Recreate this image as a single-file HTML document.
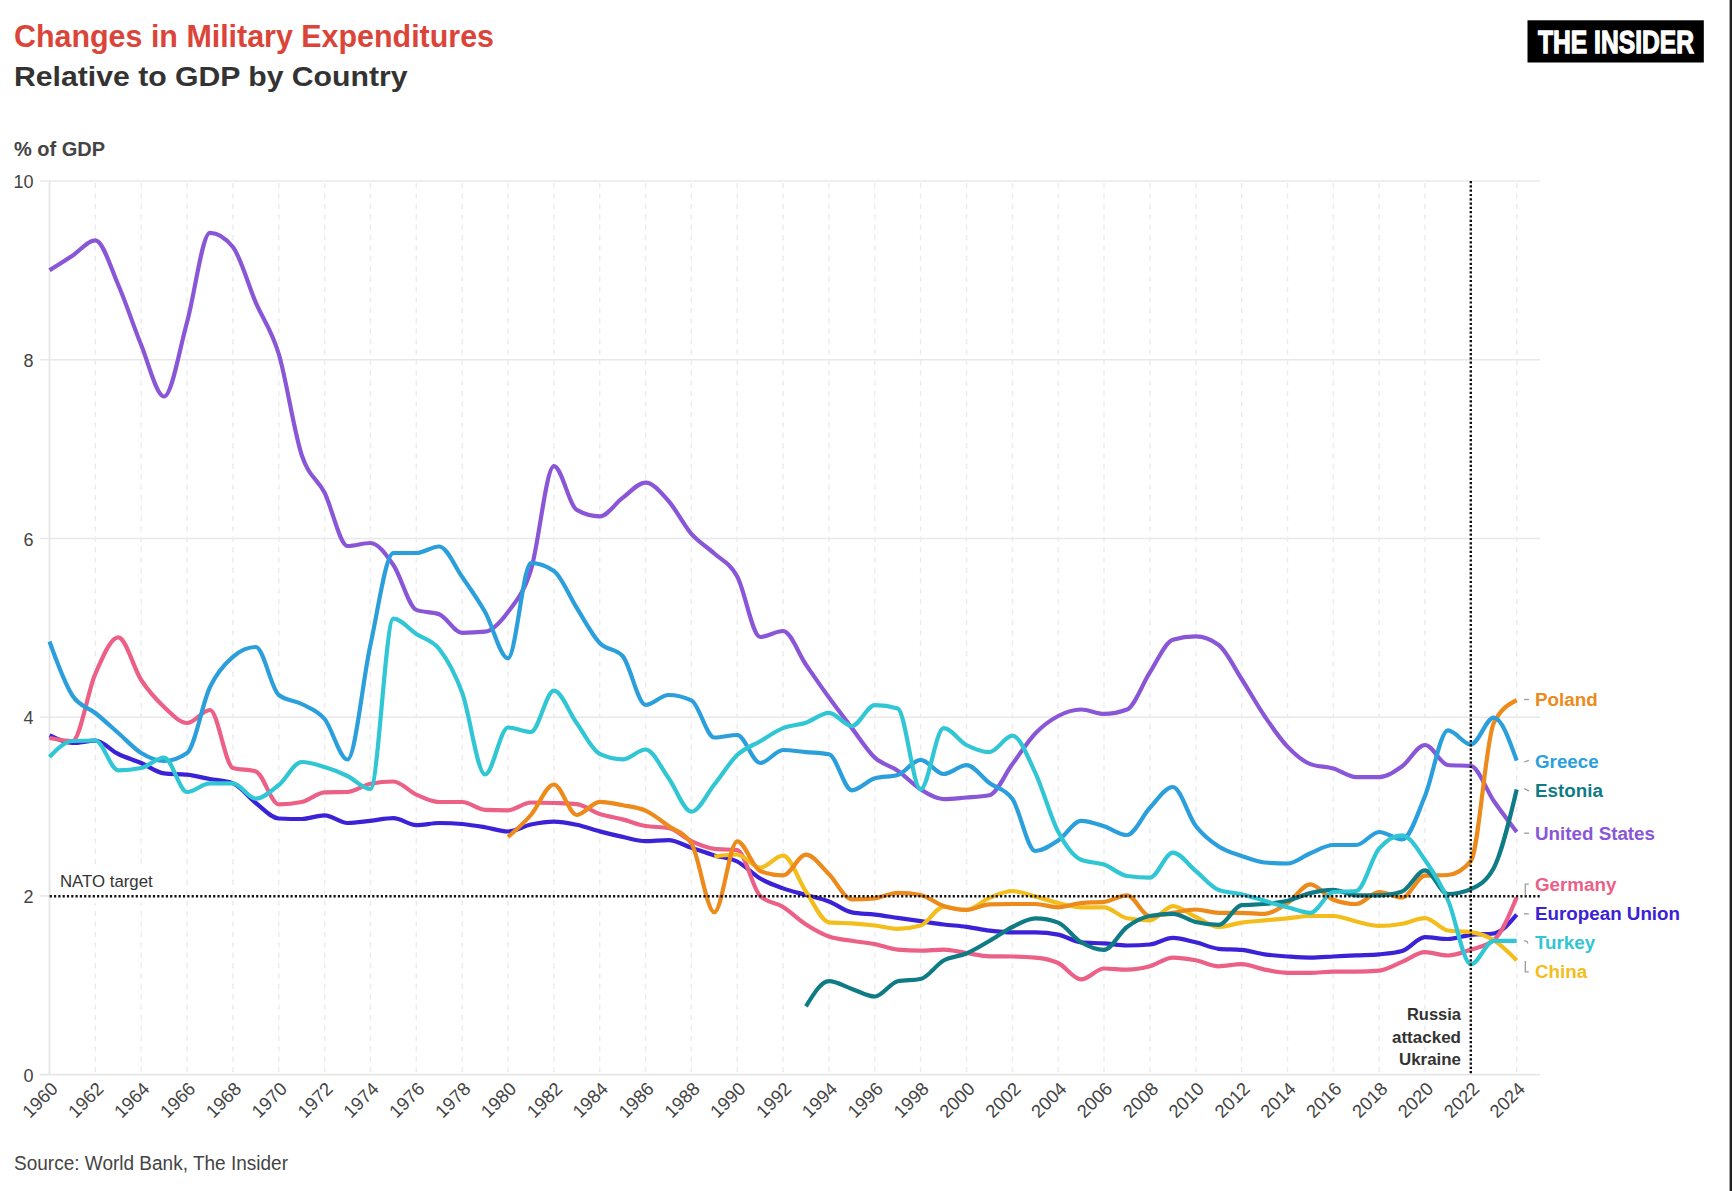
<!DOCTYPE html>
<html><head><meta charset="utf-8">
<style>
html,body{margin:0;padding:0;background:#fff;}
body{width:1732px;height:1191px;position:relative;overflow:hidden;font-family:"Liberation Sans",sans-serif;}
svg{position:absolute;left:0;top:0;}
.t1{font-weight:bold;font-size:31.5px;fill:#db4539;}
.t2{font-weight:bold;font-size:28px;fill:#333333;}
.gdp{font-weight:bold;font-size:20px;fill:#444;}
.yl{font-size:18px;fill:#444;}
.xl{font-size:18.4px;fill:#444;}
.nato{font-size:16.8px;fill:#333;stroke:#fff;stroke-width:4px;paint-order:stroke;}
.ann{font-size:16.5px;font-weight:bold;fill:#333;}
.lab{font-size:18.8px;font-weight:bold;}
.src{font-size:20px;fill:#444;}
.logo{font-weight:bold;font-size:32px;fill:#fff;stroke:#fff;stroke-width:1.3px;}
</style></head><body>
<svg width="1732" height="1191" viewBox="0 0 1732 1191">
<text x="14" y="46.8" class="t1" textLength="480" lengthAdjust="spacingAndGlyphs">Changes in Military Expenditures</text>
<text x="14" y="85.9" class="t2" textLength="393.5" lengthAdjust="spacingAndGlyphs">Relative to GDP by Country</text>
<text x="14" y="155.9" class="gdp">% of GDP</text>
<rect x="1527.5" y="20.3" width="176.3" height="42.2" fill="#000"/>
<text x="1538" y="52.7" class="logo" transform="translate(1538,0) scale(0.77,1) translate(-1538,0)">THE INSIDER</text>
<line x1="40" y1="895.9" x2="49.5" y2="895.9" stroke="#e6e6e6" stroke-width="1.5"/>
<line x1="40" y1="717.2" x2="1540" y2="717.2" stroke="#e8e8e8" stroke-width="1.5"/>
<line x1="40" y1="538.5" x2="1540" y2="538.5" stroke="#e8e8e8" stroke-width="1.5"/>
<line x1="40" y1="359.8" x2="1540" y2="359.8" stroke="#e8e8e8" stroke-width="1.5"/>
<line x1="40" y1="181.1" x2="1540" y2="181.1" stroke="#e8e8e8" stroke-width="1.5"/>
<line x1="95.3" y1="183" x2="95.3" y2="1074" stroke="#ececec" stroke-width="1.4" stroke-dasharray="5.2 5.2"/>
<line x1="141.2" y1="183" x2="141.2" y2="1074" stroke="#ececec" stroke-width="1.4" stroke-dasharray="5.2 5.2"/>
<line x1="187.1" y1="183" x2="187.1" y2="1074" stroke="#ececec" stroke-width="1.4" stroke-dasharray="5.2 5.2"/>
<line x1="232.9" y1="183" x2="232.9" y2="1074" stroke="#ececec" stroke-width="1.4" stroke-dasharray="5.2 5.2"/>
<line x1="278.8" y1="183" x2="278.8" y2="1074" stroke="#ececec" stroke-width="1.4" stroke-dasharray="5.2 5.2"/>
<line x1="324.6" y1="183" x2="324.6" y2="1074" stroke="#ececec" stroke-width="1.4" stroke-dasharray="5.2 5.2"/>
<line x1="370.4" y1="183" x2="370.4" y2="1074" stroke="#ececec" stroke-width="1.4" stroke-dasharray="5.2 5.2"/>
<line x1="416.3" y1="183" x2="416.3" y2="1074" stroke="#ececec" stroke-width="1.4" stroke-dasharray="5.2 5.2"/>
<line x1="462.2" y1="183" x2="462.2" y2="1074" stroke="#ececec" stroke-width="1.4" stroke-dasharray="5.2 5.2"/>
<line x1="508.0" y1="183" x2="508.0" y2="1074" stroke="#ececec" stroke-width="1.4" stroke-dasharray="5.2 5.2"/>
<line x1="553.9" y1="183" x2="553.9" y2="1074" stroke="#ececec" stroke-width="1.4" stroke-dasharray="5.2 5.2"/>
<line x1="599.7" y1="183" x2="599.7" y2="1074" stroke="#ececec" stroke-width="1.4" stroke-dasharray="5.2 5.2"/>
<line x1="645.6" y1="183" x2="645.6" y2="1074" stroke="#ececec" stroke-width="1.4" stroke-dasharray="5.2 5.2"/>
<line x1="691.4" y1="183" x2="691.4" y2="1074" stroke="#ececec" stroke-width="1.4" stroke-dasharray="5.2 5.2"/>
<line x1="737.2" y1="183" x2="737.2" y2="1074" stroke="#ececec" stroke-width="1.4" stroke-dasharray="5.2 5.2"/>
<line x1="783.1" y1="183" x2="783.1" y2="1074" stroke="#ececec" stroke-width="1.4" stroke-dasharray="5.2 5.2"/>
<line x1="829.0" y1="183" x2="829.0" y2="1074" stroke="#ececec" stroke-width="1.4" stroke-dasharray="5.2 5.2"/>
<line x1="874.8" y1="183" x2="874.8" y2="1074" stroke="#ececec" stroke-width="1.4" stroke-dasharray="5.2 5.2"/>
<line x1="920.6" y1="183" x2="920.6" y2="1074" stroke="#ececec" stroke-width="1.4" stroke-dasharray="5.2 5.2"/>
<line x1="966.5" y1="183" x2="966.5" y2="1074" stroke="#ececec" stroke-width="1.4" stroke-dasharray="5.2 5.2"/>
<line x1="1012.4" y1="183" x2="1012.4" y2="1074" stroke="#ececec" stroke-width="1.4" stroke-dasharray="5.2 5.2"/>
<line x1="1058.2" y1="183" x2="1058.2" y2="1074" stroke="#ececec" stroke-width="1.4" stroke-dasharray="5.2 5.2"/>
<line x1="1104.0" y1="183" x2="1104.0" y2="1074" stroke="#ececec" stroke-width="1.4" stroke-dasharray="5.2 5.2"/>
<line x1="1149.9" y1="183" x2="1149.9" y2="1074" stroke="#ececec" stroke-width="1.4" stroke-dasharray="5.2 5.2"/>
<line x1="1195.8" y1="183" x2="1195.8" y2="1074" stroke="#ececec" stroke-width="1.4" stroke-dasharray="5.2 5.2"/>
<line x1="1241.6" y1="183" x2="1241.6" y2="1074" stroke="#ececec" stroke-width="1.4" stroke-dasharray="5.2 5.2"/>
<line x1="1287.5" y1="183" x2="1287.5" y2="1074" stroke="#ececec" stroke-width="1.4" stroke-dasharray="5.2 5.2"/>
<line x1="1333.3" y1="183" x2="1333.3" y2="1074" stroke="#ececec" stroke-width="1.4" stroke-dasharray="5.2 5.2"/>
<line x1="1379.2" y1="183" x2="1379.2" y2="1074" stroke="#ececec" stroke-width="1.4" stroke-dasharray="5.2 5.2"/>
<line x1="1425.0" y1="183" x2="1425.0" y2="1074" stroke="#ececec" stroke-width="1.4" stroke-dasharray="5.2 5.2"/>
<line x1="1470.9" y1="183" x2="1470.9" y2="1074" stroke="#ececec" stroke-width="1.4" stroke-dasharray="5.2 5.2"/>
<line x1="1516.7" y1="183" x2="1516.7" y2="1074" stroke="#ececec" stroke-width="1.4" stroke-dasharray="5.2 5.2"/>
<line x1="49.5" y1="181" x2="49.5" y2="1075" stroke="#e6e6e6" stroke-width="1.8"/>
<line x1="40" y1="1074.6" x2="1540" y2="1074.6" stroke="#e6e6e6" stroke-width="1.8"/>
<text x="33.5" y="1081.8" text-anchor="end" class="yl">0</text>
<text x="33.5" y="903.1" text-anchor="end" class="yl">2</text>
<text x="33.5" y="724.4" text-anchor="end" class="yl">4</text>
<text x="33.5" y="545.7" text-anchor="end" class="yl">6</text>
<text x="33.5" y="367.0" text-anchor="end" class="yl">8</text>
<text x="33.5" y="188.3" text-anchor="end" class="yl">10</text>
<text transform="translate(59.0,1090) rotate(-45)" text-anchor="end" class="xl">1960</text>
<text transform="translate(104.8,1090) rotate(-45)" text-anchor="end" class="xl">1962</text>
<text transform="translate(150.7,1090) rotate(-45)" text-anchor="end" class="xl">1964</text>
<text transform="translate(196.6,1090) rotate(-45)" text-anchor="end" class="xl">1966</text>
<text transform="translate(242.4,1090) rotate(-45)" text-anchor="end" class="xl">1968</text>
<text transform="translate(288.2,1090) rotate(-45)" text-anchor="end" class="xl">1970</text>
<text transform="translate(334.1,1090) rotate(-45)" text-anchor="end" class="xl">1972</text>
<text transform="translate(379.9,1090) rotate(-45)" text-anchor="end" class="xl">1974</text>
<text transform="translate(425.8,1090) rotate(-45)" text-anchor="end" class="xl">1976</text>
<text transform="translate(471.7,1090) rotate(-45)" text-anchor="end" class="xl">1978</text>
<text transform="translate(517.5,1090) rotate(-45)" text-anchor="end" class="xl">1980</text>
<text transform="translate(563.4,1090) rotate(-45)" text-anchor="end" class="xl">1982</text>
<text transform="translate(609.2,1090) rotate(-45)" text-anchor="end" class="xl">1984</text>
<text transform="translate(655.1,1090) rotate(-45)" text-anchor="end" class="xl">1986</text>
<text transform="translate(700.9,1090) rotate(-45)" text-anchor="end" class="xl">1988</text>
<text transform="translate(746.8,1090) rotate(-45)" text-anchor="end" class="xl">1990</text>
<text transform="translate(792.6,1090) rotate(-45)" text-anchor="end" class="xl">1992</text>
<text transform="translate(838.5,1090) rotate(-45)" text-anchor="end" class="xl">1994</text>
<text transform="translate(884.3,1090) rotate(-45)" text-anchor="end" class="xl">1996</text>
<text transform="translate(930.1,1090) rotate(-45)" text-anchor="end" class="xl">1998</text>
<text transform="translate(976.0,1090) rotate(-45)" text-anchor="end" class="xl">2000</text>
<text transform="translate(1021.9,1090) rotate(-45)" text-anchor="end" class="xl">2002</text>
<text transform="translate(1067.7,1090) rotate(-45)" text-anchor="end" class="xl">2004</text>
<text transform="translate(1113.5,1090) rotate(-45)" text-anchor="end" class="xl">2006</text>
<text transform="translate(1159.4,1090) rotate(-45)" text-anchor="end" class="xl">2008</text>
<text transform="translate(1205.2,1090) rotate(-45)" text-anchor="end" class="xl">2010</text>
<text transform="translate(1251.1,1090) rotate(-45)" text-anchor="end" class="xl">2012</text>
<text transform="translate(1297.0,1090) rotate(-45)" text-anchor="end" class="xl">2014</text>
<text transform="translate(1342.8,1090) rotate(-45)" text-anchor="end" class="xl">2016</text>
<text transform="translate(1388.7,1090) rotate(-45)" text-anchor="end" class="xl">2018</text>
<text transform="translate(1434.5,1090) rotate(-45)" text-anchor="end" class="xl">2020</text>
<text transform="translate(1480.4,1090) rotate(-45)" text-anchor="end" class="xl">2022</text>
<text transform="translate(1526.2,1090) rotate(-45)" text-anchor="end" class="xl">2024</text>
<rect x="56" y="866" width="100" height="37" fill="#fff"/>
<text x="60" y="886.7" class="nato">NATO target</text>
<text x="1461" y="1020.4" text-anchor="end" class="ann">Russia</text>
<text x="1461" y="1042.8" text-anchor="end" class="ann" textLength="69" lengthAdjust="spacingAndGlyphs">attacked</text>
<text x="1461" y="1065.3" text-anchor="end" class="ann" textLength="62" lengthAdjust="spacingAndGlyphs">Ukraine</text>
<path d="M49.5,270.3C57.1,265.5 64.8,260.7 72.4,255.7C80.1,250.7 87.7,240.4 95.3,240.4C103.0,240.4 110.6,267.6 118.3,285.0C125.9,302.4 133.6,326.4 141.2,345.0C148.8,363.6 156.5,396.5 164.1,396.5C171.8,396.5 179.4,349.3 187.1,322.0C194.7,294.7 202.3,232.8 210.0,232.8C217.6,232.8 225.3,237.5 232.9,247.0C240.5,256.5 248.2,284.8 255.8,302.6C263.5,320.4 271.1,328.6 278.8,354.0C286.4,379.4 294.0,431.9 301.7,455.0C309.3,478.1 317.0,477.6 324.6,492.8C332.2,508.0 339.9,546.0 347.5,546.0C355.2,546.0 362.8,543.0 370.4,543.0C378.1,543.0 385.7,553.9 393.4,565.0C401.0,576.1 408.7,607.0 416.3,609.9C423.9,612.8 431.6,611.3 439.2,614.2C446.9,617.1 454.5,632.8 462.2,632.8C469.8,632.8 477.4,632.4 485.1,631.7C492.7,631.0 500.4,622.3 508.0,612.0C515.6,601.7 523.3,594.3 530.9,570.0C538.6,545.7 546.2,466.2 553.9,466.2C561.5,466.2 569.1,505.6 576.8,509.9C584.4,514.2 592.1,516.4 599.7,516.4C607.3,516.4 615.0,503.5 622.6,497.9C630.3,492.3 637.9,482.6 645.6,482.6C653.2,482.6 660.8,492.4 668.5,501.0C676.1,509.6 683.8,525.1 691.4,533.9C699.0,542.6 706.7,546.4 714.3,553.5C722.0,560.6 729.6,562.6 737.2,576.5C744.9,590.4 752.5,637.0 760.2,637.0C767.8,637.0 775.5,631.0 783.1,631.0C790.7,631.0 798.4,653.7 806.0,664.8C813.7,675.9 821.3,687.0 829.0,697.6C836.6,708.1 844.2,718.1 851.9,728.1C859.5,738.1 867.2,750.5 874.8,757.6C882.4,764.7 890.1,765.4 897.7,770.7C905.4,776.0 913.0,784.6 920.6,789.3C928.3,794.0 935.9,799.1 943.6,799.1C951.2,799.1 958.9,798.1 966.5,797.5C974.1,796.9 981.8,796.7 989.4,795.2C997.1,793.7 1004.7,774.4 1012.4,764.1C1020.0,753.8 1027.6,741.5 1035.3,733.5C1042.9,725.5 1050.6,720.0 1058.2,716.0C1065.8,712.0 1073.5,709.5 1081.1,709.5C1088.8,709.5 1096.4,713.9 1104.0,713.9C1111.7,713.9 1119.3,712.4 1127.0,709.5C1134.6,706.6 1142.3,684.0 1149.9,672.4C1157.5,660.8 1165.2,641.9 1172.8,639.7C1180.5,637.5 1188.1,636.4 1195.8,636.4C1203.4,636.4 1211.0,639.3 1218.7,645.0C1226.3,650.7 1234.0,667.2 1241.6,679.0C1249.2,690.8 1256.9,704.7 1264.5,716.0C1272.2,727.3 1279.8,738.6 1287.5,746.6C1295.1,754.6 1302.7,761.2 1310.4,764.1C1318.0,767.0 1325.7,766.3 1333.3,768.5C1340.9,770.7 1348.6,777.2 1356.2,777.2C1363.9,777.2 1371.5,777.2 1379.2,777.2C1386.8,777.2 1394.4,771.7 1402.1,766.3C1409.7,760.9 1417.4,745.0 1425.0,745.0C1432.6,745.0 1440.3,764.3 1447.9,765.0C1455.6,765.7 1463.2,765.3 1470.9,766.0C1478.5,766.7 1486.1,790.0 1493.8,801.0C1501.4,812.0 1509.1,821.9 1516.7,831.9" fill="none" stroke="#8a56d8" stroke-width="4.2" stroke-linejoin="round" stroke-linecap="butt"/>
<path d="M49.5,735.3C57.1,739.1 64.8,743.0 72.4,743.0C80.1,743.0 87.7,740.7 95.3,740.7C103.0,740.7 110.6,750.3 118.3,754.0C125.9,757.7 133.6,759.8 141.2,763.0C148.8,766.2 156.5,772.5 164.1,773.4C171.8,774.3 179.4,773.8 187.1,774.7C194.7,775.6 202.3,777.6 210.0,779.0C217.6,780.5 225.3,780.5 232.9,783.4C240.5,786.3 248.2,797.1 255.8,803.0C263.5,808.9 271.1,818.2 278.8,818.5C286.4,818.8 294.0,819.0 301.7,819.0C309.3,819.0 317.0,815.3 324.6,815.3C332.2,815.3 339.9,823.0 347.5,823.0C355.2,823.0 362.8,821.6 370.4,820.8C378.1,820.0 385.7,818.2 393.4,818.2C401.0,818.2 408.7,825.2 416.3,825.2C423.9,825.2 431.6,823.0 439.2,823.0C446.9,823.0 454.5,823.3 462.2,824.0C469.8,824.7 477.4,826.0 485.1,827.3C492.7,828.5 500.4,831.5 508.0,831.5C515.6,831.5 523.3,826.1 530.9,824.5C538.6,822.9 546.2,821.6 553.9,821.6C561.5,821.6 569.1,823.2 576.8,824.8C584.4,826.4 592.1,829.4 599.7,831.4C607.3,833.4 615.0,835.3 622.6,836.9C630.3,838.5 637.9,841.2 645.6,841.2C653.2,841.2 660.8,840.1 668.5,840.1C676.1,840.1 683.8,845.2 691.4,847.8C699.0,850.3 706.7,853.1 714.3,855.4C722.0,857.7 729.6,857.6 737.2,861.5C744.9,865.4 752.5,874.0 760.2,878.5C767.8,883.0 775.5,885.6 783.1,888.4C790.7,891.1 798.4,892.8 806.0,895.0C813.7,897.2 821.3,898.6 829.0,901.5C836.6,904.4 844.2,910.9 851.9,912.4C859.5,913.9 867.2,913.7 874.8,914.6C882.4,915.5 890.1,916.8 897.7,917.9C905.4,919.0 913.0,920.1 920.6,921.2C928.3,922.3 935.9,923.6 943.6,924.5C951.2,925.4 958.9,925.8 966.5,926.8C974.1,927.8 981.8,929.7 989.4,930.6C997.1,931.5 1004.7,932.4 1012.4,932.4C1020.0,932.4 1027.6,932.4 1035.3,932.4C1042.9,932.4 1050.6,933.1 1058.2,934.6C1065.8,936.1 1073.5,941.6 1081.1,942.3C1088.8,943.0 1096.4,942.9 1104.0,943.4C1111.7,943.9 1119.3,945.5 1127.0,945.5C1134.6,945.5 1142.3,945.2 1149.9,944.5C1157.5,943.8 1165.2,937.9 1172.8,937.9C1180.5,937.9 1188.1,940.5 1195.8,942.3C1203.4,944.1 1211.0,948.1 1218.7,948.8C1226.3,949.5 1234.0,949.2 1241.6,949.9C1249.2,950.6 1256.9,953.2 1264.5,954.3C1272.2,955.4 1279.8,956.0 1287.5,956.5C1295.1,957.0 1302.7,957.6 1310.4,957.6C1318.0,957.6 1325.7,956.9 1333.3,956.5C1340.9,956.1 1348.6,955.8 1356.2,955.4C1363.9,955.0 1371.5,955.0 1379.2,954.3C1386.8,953.6 1394.4,953.2 1402.1,951.0C1409.7,948.8 1417.4,937.2 1425.0,937.2C1432.6,937.2 1440.3,939.0 1447.9,939.0C1455.6,939.0 1463.2,935.7 1470.9,934.8C1478.5,933.9 1486.1,934.4 1493.8,933.5C1501.4,932.6 1509.1,923.7 1516.7,914.7" fill="none" stroke="#3b22d6" stroke-width="4.2" stroke-linejoin="round" stroke-linecap="butt"/>
<path d="M49.5,738.0C57.1,739.5 64.8,741.0 72.4,741.0C80.1,741.0 87.7,691.1 95.3,673.8C103.0,656.5 110.6,637.3 118.3,637.3C125.9,637.3 133.6,668.4 141.2,680.0C148.8,691.6 156.5,699.8 164.1,707.0C171.8,714.2 179.4,723.0 187.1,723.0C194.7,723.0 202.3,710.0 210.0,710.0C217.6,710.0 225.3,765.7 232.9,768.0C240.5,770.3 248.2,769.1 255.8,771.4C263.5,773.7 271.1,804.4 278.8,804.4C286.4,804.4 294.0,803.6 301.7,802.0C309.3,800.4 317.0,792.7 324.6,792.4C332.2,792.1 339.9,792.3 347.5,792.0C355.2,791.7 362.8,785.2 370.4,783.7C378.1,782.2 385.7,781.5 393.4,781.5C401.0,781.5 408.7,791.2 416.3,794.6C423.9,798.0 431.6,802.0 439.2,802.0C446.9,802.0 454.5,802.0 462.2,802.0C469.8,802.0 477.4,809.6 485.1,809.9C492.7,810.2 500.4,810.3 508.0,810.3C515.6,810.3 523.3,802.5 530.9,802.5C538.6,802.5 546.2,802.7 553.9,803.0C561.5,803.3 569.1,803.4 576.8,804.1C584.4,804.8 592.1,811.5 599.7,814.0C607.3,816.5 615.0,817.4 622.6,819.4C630.3,821.4 637.9,824.7 645.6,826.0C653.2,827.3 660.8,826.7 668.5,828.0C676.1,829.3 683.8,837.7 691.4,841.2C699.0,844.7 706.7,848.1 714.3,848.9C722.0,849.7 729.6,849.3 737.2,850.1C744.9,850.9 752.5,888.7 760.2,896.0C767.8,903.3 775.5,902.2 783.1,907.0C790.7,911.8 798.4,919.6 806.0,924.5C813.7,929.4 821.3,933.8 829.0,936.5C836.6,939.2 844.2,939.5 851.9,940.8C859.5,942.1 867.2,942.6 874.8,944.1C882.4,945.6 890.1,948.9 897.7,949.6C905.4,950.3 913.0,950.7 920.6,950.7C928.3,950.7 935.9,949.6 943.6,949.6C951.2,949.6 958.9,951.9 966.5,953.0C974.1,954.1 981.8,956.2 989.4,956.3C997.1,956.4 1004.7,956.4 1012.4,956.5C1020.0,956.6 1027.6,956.9 1035.3,957.6C1042.9,958.3 1050.6,959.4 1058.2,963.0C1065.8,966.6 1073.5,979.4 1081.1,979.4C1088.8,979.4 1096.4,968.5 1104.0,968.5C1111.7,968.5 1119.3,969.6 1127.0,969.6C1134.6,969.6 1142.3,968.3 1149.9,966.3C1157.5,964.3 1165.2,957.6 1172.8,957.6C1180.5,957.6 1188.1,958.8 1195.8,960.2C1203.4,961.7 1211.0,966.3 1218.7,966.3C1226.3,966.3 1234.0,964.1 1241.6,964.1C1249.2,964.1 1256.9,968.2 1264.5,969.6C1272.2,971.0 1279.8,972.8 1287.5,972.8C1295.1,972.8 1302.7,972.8 1310.4,972.8C1318.0,972.8 1325.7,971.7 1333.3,971.7C1340.9,971.7 1348.6,971.7 1356.2,971.7C1363.9,971.7 1371.5,971.4 1379.2,970.7C1386.8,970.0 1394.4,965.0 1402.1,961.9C1409.7,958.8 1417.4,952.2 1425.0,952.2C1432.6,952.2 1440.3,955.5 1447.9,955.5C1455.6,955.5 1463.2,952.1 1470.9,949.6C1478.5,947.1 1486.1,946.5 1493.8,940.2C1501.4,933.9 1509.1,915.6 1516.7,897.2" fill="none" stroke="#ec6088" stroke-width="4.2" stroke-linejoin="round" stroke-linecap="butt"/>
<path d="M714.3,856.5C722.0,855.5 729.6,854.5 737.2,854.5C744.9,854.5 752.5,867.5 760.2,867.5C767.8,867.5 775.5,855.7 783.1,855.7C790.7,855.7 798.4,880.6 806.0,891.7C813.7,902.8 821.3,921.6 829.0,922.3C836.6,923.0 844.2,922.9 851.9,923.4C859.5,923.9 867.2,924.6 874.8,925.5C882.4,926.4 890.1,928.8 897.7,928.8C905.4,928.8 913.0,927.7 920.6,925.5C928.3,923.3 935.9,907.0 943.6,907.0C951.2,907.0 958.9,909.9 966.5,909.9C974.1,909.9 981.8,901.0 989.4,897.9C997.1,894.8 1004.7,891.0 1012.4,891.0C1020.0,891.0 1027.6,894.4 1035.3,896.4C1042.9,898.4 1050.6,901.2 1058.2,903.0C1065.8,904.8 1073.5,907.3 1081.1,907.3C1088.8,907.3 1096.4,907.3 1104.0,907.3C1111.7,907.3 1119.3,916.9 1127.0,918.3C1134.6,919.7 1142.3,920.4 1149.9,920.4C1157.5,920.4 1165.2,906.2 1172.8,906.2C1180.5,906.2 1188.1,913.5 1195.8,917.0C1203.4,920.5 1211.0,927.0 1218.7,927.0C1226.3,927.0 1234.0,923.7 1241.6,922.6C1249.2,921.5 1256.9,921.1 1264.5,920.4C1272.2,919.7 1279.8,919.0 1287.5,918.3C1295.1,917.6 1302.7,916.0 1310.4,916.0C1318.0,916.0 1325.7,916.0 1333.3,916.0C1340.9,916.0 1348.6,919.9 1356.2,921.5C1363.9,923.1 1371.5,925.9 1379.2,925.9C1386.8,925.9 1394.4,925.0 1402.1,923.7C1409.7,922.4 1417.4,918.2 1425.0,918.2C1432.6,918.2 1440.3,929.4 1447.9,930.5C1455.6,931.6 1463.2,931.1 1470.9,932.2C1478.5,933.3 1486.1,935.5 1493.8,940.2C1501.4,944.9 1509.1,952.6 1516.7,960.4" fill="none" stroke="#f3bd1c" stroke-width="4.2" stroke-linejoin="round" stroke-linecap="butt"/>
<path d="M508.0,837.0C515.6,830.4 523.3,823.8 530.9,815.0C538.6,806.2 546.2,784.5 553.9,784.5C561.5,784.5 569.1,815.0 576.8,815.0C584.4,815.0 592.1,801.9 599.7,801.9C607.3,801.9 615.0,803.7 622.6,805.2C630.3,806.7 637.9,807.2 645.6,810.7C653.2,814.2 660.8,820.5 668.5,826.0C676.1,831.5 683.8,831.8 691.4,843.4C699.0,855.0 706.7,912.2 714.3,912.2C722.0,912.2 729.6,841.3 737.2,841.3C744.9,841.3 752.5,868.1 760.2,871.0C767.8,873.9 775.5,875.3 783.1,875.3C790.7,875.3 798.4,854.6 806.0,854.6C813.7,854.6 821.3,866.8 829.0,874.2C836.6,881.6 844.2,899.3 851.9,899.3C859.5,899.3 867.2,899.0 874.8,898.3C882.4,897.6 890.1,892.8 897.7,892.8C905.4,892.8 913.0,893.5 920.6,895.0C928.3,896.5 935.9,903.4 943.6,905.9C951.2,908.4 958.9,909.9 966.5,909.9C974.1,909.9 981.8,904.7 989.4,904.4C997.1,904.1 1004.7,904.0 1012.4,904.0C1020.0,904.0 1027.6,904.0 1035.3,904.0C1042.9,904.0 1050.6,907.3 1058.2,907.3C1065.8,907.3 1073.5,903.7 1081.1,903.0C1088.8,902.3 1096.4,902.6 1104.0,901.9C1111.7,901.2 1119.3,895.3 1127.0,895.3C1134.6,895.3 1142.3,916.0 1149.9,916.0C1157.5,916.0 1165.2,913.9 1172.8,912.8C1180.5,911.7 1188.1,909.5 1195.8,909.5C1203.4,909.5 1211.0,912.8 1218.7,912.8C1226.3,912.8 1234.0,912.8 1241.6,912.8C1249.2,912.8 1256.9,913.9 1264.5,913.9C1272.2,913.9 1279.8,907.9 1287.5,903.0C1295.1,898.1 1302.7,884.4 1310.4,884.4C1318.0,884.4 1325.7,896.8 1333.3,899.7C1340.9,902.6 1348.6,904.0 1356.2,904.0C1363.9,904.0 1371.5,892.0 1379.2,892.0C1386.8,892.0 1394.4,897.5 1402.1,897.5C1409.7,897.5 1417.4,876.2 1425.0,875.7C1432.6,875.2 1440.3,875.5 1447.9,875.0C1455.6,874.5 1463.2,870.3 1470.9,860.9C1478.5,851.5 1486.1,738.2 1493.8,723.0C1501.4,707.8 1509.1,704.0 1516.7,700.2" fill="none" stroke="#ec8a1b" stroke-width="4.2" stroke-linejoin="round" stroke-linecap="butt"/>
<path d="M49.5,641.5C57.1,662.7 64.8,683.8 72.4,695.5C80.1,707.2 87.7,706.8 95.3,713.0C103.0,719.2 110.6,726.3 118.3,733.0C125.9,739.7 133.6,748.3 141.2,753.0C148.8,757.7 156.5,761.0 164.1,761.0C171.8,761.0 179.4,758.3 187.1,753.0C194.7,747.7 202.3,703.0 210.0,687.0C217.6,671.0 225.3,663.3 232.9,656.8C240.5,650.3 248.2,647.0 255.8,647.0C263.5,647.0 271.1,689.0 278.8,695.0C286.4,701.0 294.0,700.0 301.7,704.0C309.3,708.0 317.0,709.8 324.6,719.0C332.2,728.2 339.9,759.5 347.5,759.5C355.2,759.5 362.8,679.4 370.4,645.0C378.1,610.6 385.7,553.0 393.4,553.0C401.0,553.0 408.7,553.0 416.3,553.0C423.9,553.0 431.6,546.5 439.2,546.5C446.9,546.5 454.5,566.1 462.2,577.0C469.8,587.9 477.4,598.5 485.1,612.0C492.7,625.5 500.4,658.3 508.0,658.3C515.6,658.3 523.3,563.0 530.9,563.0C538.6,563.0 546.2,565.7 553.9,571.0C561.5,576.3 569.1,596.0 576.8,608.0C584.4,620.0 592.1,635.0 599.7,643.0C607.3,651.0 615.0,647.3 622.6,656.0C630.3,664.7 637.9,704.8 645.6,704.8C653.2,704.8 660.8,695.0 668.5,695.0C676.1,695.0 683.8,696.8 691.4,700.4C699.0,704.0 706.7,737.5 714.3,737.5C722.0,737.5 729.6,735.0 737.2,735.0C744.9,735.0 752.5,763.0 760.2,763.0C767.8,763.0 775.5,750.0 783.1,750.0C790.7,750.0 798.4,751.4 806.0,752.1C813.7,752.8 821.3,752.8 829.0,754.3C836.6,755.8 844.2,790.3 851.9,790.3C859.5,790.3 867.2,780.5 874.8,778.3C882.4,776.1 890.1,777.2 897.7,775.0C905.4,772.8 913.0,759.8 920.6,759.8C928.3,759.8 935.9,774.0 943.6,774.0C951.2,774.0 958.9,765.2 966.5,765.2C974.1,765.2 981.8,777.4 989.4,783.0C997.1,788.6 1004.7,788.3 1012.4,799.0C1020.0,809.7 1027.6,851.0 1035.3,851.0C1042.9,851.0 1050.6,845.5 1058.2,840.5C1065.8,835.5 1073.5,820.9 1081.1,820.9C1088.8,820.9 1096.4,823.9 1104.0,826.3C1111.7,828.6 1119.3,835.0 1127.0,835.0C1134.6,835.0 1142.3,815.8 1149.9,807.8C1157.5,799.8 1165.2,787.0 1172.8,787.0C1180.5,787.0 1188.1,816.1 1195.8,826.0C1203.4,835.9 1211.0,841.5 1218.7,846.5C1226.3,851.5 1234.0,853.3 1241.6,856.0C1249.2,858.7 1256.9,861.8 1264.5,862.5C1272.2,863.2 1279.8,863.5 1287.5,863.5C1295.1,863.5 1302.7,856.3 1310.4,853.2C1318.0,850.1 1325.7,845.0 1333.3,845.0C1340.9,845.0 1348.6,845.0 1356.2,845.0C1363.9,845.0 1371.5,832.0 1379.2,832.0C1386.8,832.0 1394.4,839.5 1402.1,839.5C1409.7,839.5 1417.4,814.2 1425.0,796.0C1432.6,777.8 1440.3,730.4 1447.9,730.4C1455.6,730.4 1463.2,744.5 1470.9,744.5C1478.5,744.5 1486.1,717.6 1493.8,717.6C1501.4,717.6 1509.1,739.1 1516.7,760.6" fill="none" stroke="#2b9fdc" stroke-width="4.2" stroke-linejoin="round" stroke-linecap="butt"/>
<path d="M806.0,1006.3C813.7,993.8 821.3,981.2 829.0,981.2C836.6,981.2 844.2,986.4 851.9,988.9C859.5,991.4 867.2,996.5 874.8,996.5C882.4,996.5 890.1,982.7 897.7,981.2C905.4,979.7 913.0,980.5 920.6,979.0C928.3,977.5 935.9,964.8 943.6,960.5C951.2,956.2 958.9,956.8 966.5,953.5C974.1,950.2 981.8,945.4 989.4,941.0C997.1,936.6 1004.7,930.8 1012.4,927.0C1020.0,923.2 1027.6,918.3 1035.3,918.3C1042.9,918.3 1050.6,919.7 1058.2,922.6C1065.8,925.5 1073.5,937.8 1081.1,942.3C1088.8,946.8 1096.4,949.9 1104.0,949.9C1111.7,949.9 1119.3,932.6 1127.0,927.0C1134.6,921.4 1142.3,917.4 1149.9,916.0C1157.5,914.6 1165.2,913.9 1172.8,913.9C1180.5,913.9 1188.1,920.2 1195.8,922.0C1203.4,923.8 1211.0,924.8 1218.7,924.8C1226.3,924.8 1234.0,906.0 1241.6,905.2C1249.2,904.4 1256.9,904.7 1264.5,904.0C1272.2,903.3 1279.8,902.6 1287.5,900.8C1295.1,899.0 1302.7,894.9 1310.4,893.1C1318.0,891.3 1325.7,889.9 1333.3,889.9C1340.9,889.9 1348.6,895.3 1356.2,895.3C1363.9,895.3 1371.5,895.3 1379.2,895.3C1386.8,895.3 1394.4,894.0 1402.1,891.4C1409.7,888.8 1417.4,870.3 1425.0,870.3C1432.6,870.3 1440.3,894.0 1447.9,894.0C1455.6,894.0 1463.2,892.4 1470.9,889.1C1478.5,885.8 1486.1,882.1 1493.8,868.0C1501.4,853.9 1509.1,821.7 1516.7,789.5" fill="none" stroke="#0f7b84" stroke-width="4.2" stroke-linejoin="round" stroke-linecap="butt"/>
<path d="M49.5,757.0C57.1,749.2 64.8,741.3 72.4,741.0C80.1,740.7 87.7,740.5 95.3,740.5C103.0,740.5 110.6,770.3 118.3,770.3C125.9,770.3 133.6,769.5 141.2,768.0C148.8,766.5 156.5,757.5 164.1,757.5C171.8,757.5 179.4,792.0 187.1,792.0C194.7,792.0 202.3,783.4 210.0,783.4C217.6,783.4 225.3,783.4 232.9,783.4C240.5,783.4 248.2,798.7 255.8,798.7C263.5,798.7 271.1,791.1 278.8,785.0C286.4,778.9 294.0,762.0 301.7,762.0C309.3,762.0 317.0,764.7 324.6,767.0C332.2,769.3 339.9,772.3 347.5,776.0C355.2,779.7 362.8,789.0 370.4,789.0C378.1,789.0 385.7,618.6 393.4,618.6C401.0,618.6 408.7,628.9 416.3,634.0C423.9,639.1 431.6,639.2 439.2,649.0C446.9,658.8 454.5,671.9 462.2,692.8C469.8,713.7 477.4,774.5 485.1,774.5C492.7,774.5 500.4,727.5 508.0,727.5C515.6,727.5 523.3,732.0 530.9,732.0C538.6,732.0 546.2,690.6 553.9,690.6C561.5,690.6 569.1,712.8 576.8,723.3C584.4,733.9 592.1,750.3 599.7,753.9C607.3,757.5 615.0,759.3 622.6,759.3C630.3,759.3 637.9,749.5 645.6,749.5C653.2,749.5 660.8,767.5 668.5,777.9C676.1,788.3 683.8,811.7 691.4,811.7C699.0,811.7 706.7,794.0 714.3,784.5C722.0,775.1 729.6,762.2 737.2,755.0C744.9,747.8 752.5,745.7 760.2,741.2C767.8,736.7 775.5,731.2 783.1,728.1C790.7,725.0 798.4,725.2 806.0,722.7C813.7,720.1 821.3,712.8 829.0,712.8C836.6,712.8 844.2,726.0 851.9,726.0C859.5,726.0 867.2,705.2 874.8,705.2C882.4,705.2 890.1,706.3 897.7,708.5C905.4,710.7 913.0,789.3 920.6,789.3C928.3,789.3 935.9,728.1 943.6,728.1C951.2,728.1 958.9,741.0 966.5,745.0C974.1,749.0 981.8,752.1 989.4,752.1C997.1,752.1 1004.7,735.7 1012.4,735.7C1020.0,735.7 1027.6,756.8 1035.3,772.8C1042.9,788.8 1050.6,817.3 1058.2,831.8C1065.8,846.3 1073.5,856.6 1081.1,859.8C1088.8,863.0 1096.4,861.9 1104.0,864.6C1111.7,867.3 1119.3,874.9 1127.0,876.0C1134.6,877.1 1142.3,877.7 1149.9,877.7C1157.5,877.7 1165.2,852.6 1172.8,852.6C1180.5,852.6 1188.1,864.8 1195.8,871.0C1203.4,877.2 1211.0,887.2 1218.7,890.0C1226.3,892.8 1234.0,892.4 1241.6,894.2C1249.2,896.0 1256.9,898.6 1264.5,900.8C1272.2,903.0 1279.8,905.3 1287.5,907.3C1295.1,909.3 1302.7,912.8 1310.4,912.8C1318.0,912.8 1325.7,892.7 1333.3,892.0C1340.9,891.3 1348.6,891.7 1356.2,891.0C1363.9,890.3 1371.5,857.1 1379.2,848.4C1386.8,839.7 1394.4,835.3 1402.1,835.3C1409.7,835.3 1417.4,849.2 1425.0,860.0C1432.6,870.8 1440.3,882.6 1447.9,900.0C1455.6,917.4 1463.2,964.4 1470.9,964.4C1478.5,964.4 1486.1,940.9 1493.8,940.9C1501.4,940.9 1509.1,940.9 1516.7,940.9" fill="none" stroke="#31c6d4" stroke-width="4.2" stroke-linejoin="round" stroke-linecap="butt"/>
<line x1="49.7" y1="896.2" x2="1540" y2="896.2" stroke="#111" stroke-width="2.4" stroke-dasharray="2.2 2.1"/>
<line x1="1470.8" y1="181" x2="1470.8" y2="1075" stroke="#111" stroke-width="2.4" stroke-dasharray="2.2 2.1"/>
<path d="M1524.2,699.5H1528.9" fill="none" stroke="#9a9a9a" stroke-width="1.3"/>
<path d="M1524.2,762L1528.9,760.4" fill="none" stroke="#9a9a9a" stroke-width="1.3"/>
<path d="M1524.2,788.6L1528.9,790.9" fill="none" stroke="#9a9a9a" stroke-width="1.3"/>
<path d="M1524.2,833.2H1528.9" fill="none" stroke="#9a9a9a" stroke-width="1.3"/>
<path d="M1528.8,884.1H1525.3V895.3" fill="none" stroke="#9a9a9a" stroke-width="1.3"/>
<path d="M1524,913.9H1528.8" fill="none" stroke="#9a9a9a" stroke-width="1.3"/>
<path d="M1524,940.5L1527,941.5L1528,943.5" fill="none" stroke="#9a9a9a" stroke-width="1.3"/>
<path d="M1525.3,961V971.8H1528.8" fill="none" stroke="#9a9a9a" stroke-width="1.3"/>
<text x="1535" y="706.2" class="lab" fill="#ec8a1b">Poland</text>
<text x="1535" y="767.5" class="lab" fill="#2b9fdc">Greece</text>
<text x="1535" y="796.5" class="lab" fill="#0f7b84">Estonia</text>
<text x="1535" y="839.5" class="lab" fill="#8a56d8">United States</text>
<text x="1535" y="891.0" class="lab" fill="#ec6088">Germany</text>
<text x="1535" y="920.0" class="lab" fill="#3b22d6">European Union</text>
<text x="1535" y="949.0" class="lab" fill="#31c6d4">Turkey</text>
<text x="1535" y="978.0" class="lab" fill="#f3bd1c">China</text>
<text x="14" y="1170.3" class="src" textLength="274" lengthAdjust="spacingAndGlyphs">Source: World Bank, The Insider</text>
<rect x="1729.6" y="0" width="2.4" height="1191" fill="#222"/>
</svg>
</body></html>
